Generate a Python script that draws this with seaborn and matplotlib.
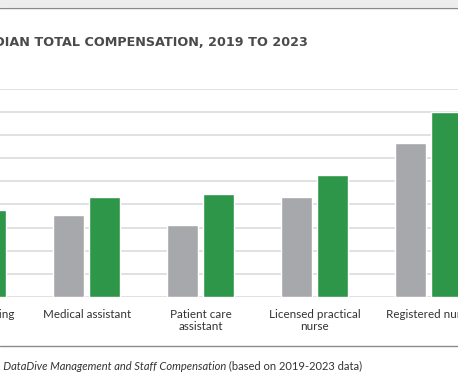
import matplotlib
matplotlib.use("Agg")
import matplotlib.pyplot as plt
import seaborn as sns
import pandas as pd
from matplotlib.patches import Rectangle
from matplotlib.lines import Line2D

# values in dollars (10k per line)
roles = ["Insurance billing", "Medical assistant", "Patient care\nassistant",
         "Licensed practical\nnurse", "Registered nurse"]
comp_2019 = [32000, 35500, 31200, 43300, 66700]
comp_2023 = [37700, 43300, 44600, 52800, 79800]
years = ["2019", "2023"]

df = pd.DataFrame({
    "role": roles * 2,
    "year": [years[0]] * len(roles) + [years[1]] * len(roles),
    "comp": comp_2019 + comp_2023,
})

sns.set_style("white")
plt.rcParams["font.family"] = ["Lato", "DejaVu Sans"]

fig = plt.figure(figsize=(4.58, 3.82), dpi=100)
ax = fig.add_axes([0, 0.2225, 1, 0.5455])

sns.barplot(data=df, x="role", y="comp", hue="year", order=roles,
            palette={"2019": "#a7a8ab", "2023": "#2e9648"},
            width=0.632, gap=0.14, saturation=1, legend=False, ax=ax)

# the picture is a crop: first category sits partly off the left edge
ax.set_xlim(0.2395, 4.257)
ax.set_ylim(0, 90000)
ax.set_yticks(range(0, 90001, 10000))
ax.yaxis.grid(True, color="#dcdcdc", linewidth=1.2)
ax.set_axisbelow(True)
for s in ax.spines.values():
    s.set_visible(False)
ax.set_xlabel("")
ax.set_ylabel("")
ax.tick_params(axis="y", left=False, labelleft=False)
ax.tick_params(axis="x", bottom=False, pad=5, labelsize=8.4, labelcolor="#333333")
for lbl in ax.get_xticklabels():
    lbl.set_linespacing(1.15)

# tick at x=0 is outside the view so matplotlib skips its label; draw it by hand
fig.canvas.draw()
ref_lbl = ax.get_xticklabels()[1]
ax.text(0, 0, roles[0], transform=ref_lbl.get_transform(), ha="center", va="top",
        fontsize=8.4, color="#333333", clip_on=False)

# top band of the cropped page
fig.patches.append(Rectangle((0, 1 - 7 / 382), 1, 7 / 382, transform=fig.transFigure,
                             facecolor="#ededed", edgecolor="none", zorder=0))
fig.lines.append(Line2D([0, 1], [1 - 7.5 / 382] * 2, transform=fig.transFigure,
                        color="#8a8a8a", linewidth=1))
# rule above the source line
fig.lines.append(Line2D([0, 1], [1 - 346 / 382] * 2, transform=fig.transFigure,
                        color="#8a8a8a", linewidth=1))

fig.text(308 / 458, 1 - 43 / 382, "MEDIAN TOTAL COMPENSATION, 2019 TO 2023",
         ha="right", va="center", fontsize=9.2, fontweight="bold", color="#4a4a4c",
         family=["DejaVu Sans"])

src = fig.text(362 / 458, 1 - 366 / 382, " (based on 2019-2023 data)",
               ha="right", va="center", fontsize=8, color="#333333")
ax.annotate("Source: MGMA DataDive Management and Staff Compensation",
            xy=(0, 0.5), xycoords=src, ha="right", va="center",
            fontsize=8, style="italic", color="#333333")

fig.savefig("out.png", dpi=100)
